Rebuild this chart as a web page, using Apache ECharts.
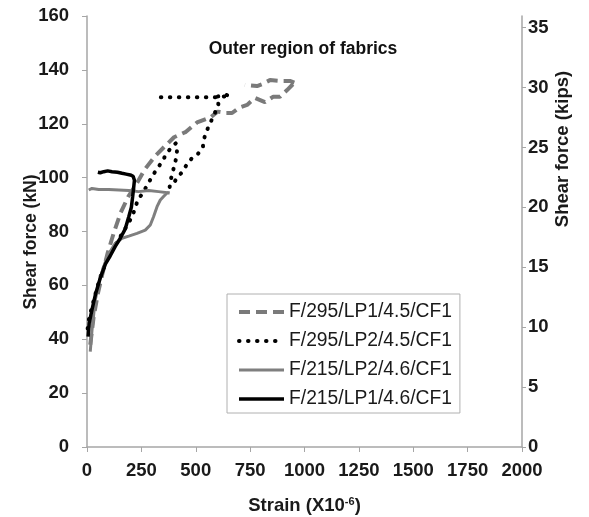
<!DOCTYPE html>
<html>
<head>
<meta charset="utf-8">
<script src="https://cdn.jsdelivr.net/npm/echarts@6/dist/echarts.min.js"></script>
<style>
html,body{margin:0;padding:0;background:#fff;}
#c{width:589px;height:517px;}
</style>
</head>
<body>
<div id="c"></div>
<script>
// ---- data ----
var seriesNames = ['F/295/LP1/4.5/CF1', 'F/295/LP2/4.5/CF1', 'F/215/LP2/4.6/CF1', 'F/215/LP1/4.6/CF1'];
var xTicks = [0, 250, 500, 750, 1000, 1250, 1500, 1750, 2000];
var kipsTicks = [0, 5, 10, 15, 20, 25, 30, 35];

var f295lp1 = [[15,38],[30,48],[50,57],[70,64],[95,72],[125,80],[155,87],[190,93],[230,98],[265,103],[313,108],[350,111],[400,115],[455,117],[506,120.5],[570,122.5],[600,124.5],[640,124],[667,124],[700,126],[736,127],[772,129.6],[818,128],[855,130],[887,130],[920,132.5],[947,134.7],[963,135],[933,135.9],[887,135.9],[841,136.2],[805,134.7],[782,134],[726,134.4]];

var f295lp2 = [[3,44],[10,48],[23,52],[46,59],[69,65],[100,71],[130,75],[160,79],[190,83],[210,86],[221,88.7],[234,91.7],[257,94.4],[280,97.6],[303,101],[326,103.6],[349,106.5],[368,109.2],[391,111.5],[409,112.8],[414,110.2],[411,107.8],[405,105.4],[395,102.4],[386,99.5],[380,96.5],[395,97.5],[414,99.9],[437,102],[460,105],[483,107.3],[510,108.8],[533,111.4],[535,113.3],[543,115.8],[556,118.4],[573,121.4],[589,124.2],[604,127.3],[596,130.1],[619,130.3],[639,130.7],[657,130.4],[600,129.8],[558,129.8],[515,129.8],[474,129.8],[431,129.8],[389,129.8],[346,129.8],[305,129.8]];

var f215lp2 = [[15,35.4],[23,43.4],[38,54.6],[61,63],[92,70.6],[130,75.6],[161,77.5],[192,78.3],[230,79.3],[268,80.5],[291,82.4],[306,85.5],[322,89.2],[337,91.7],[352,93],[370,94.5],[380,94.3],[329,94.8],[284,95.2],[237,94.8],[192,95.2],[146,95.4],[100,95.6],[54,95.6],[23,96],[8,95.4]];

var f215lp1 = [[5,41],[10,46],[23,51],[40,57],[62,63],[85,68],[107,71],[130,74.5],[153,77.5],[176,81],[192,85.5],[204,89],[210,93],[215,96.6],[218,99],[212,100.5],[199,101],[180,101.3],[161,101.6],[140,102],[115,102.2],[95,102.5],[77,102.2],[61,101.8],[50,102]];

var KN_PER_KIP = 4.448;

var chart = echarts.init(document.getElementById('c'));
var FONT = 'Liberation Sans, Arial, sans-serif';
var axisGray = '#a6a6a6';

chart.setOption({
  animation: false,
  backgroundColor: '#fff',
  textStyle: {fontFamily: FONT},
  title: {
    text: 'Outer region of fabrics',
    left: 298, top: 35, textAlign: 'center',
    textStyle: {fontFamily: FONT, fontSize: 17.5, fontWeight: 'bold', color: '#111'}
  },
  grid: {left: 87, right: 67, top: 16, bottom: 70, containLabel: false, outerBoundsMode: 'none'},
  legend: {
    orient: 'vertical',
    left: 227, top: 294,
    padding: [8, 8, 4, 10],
    itemGap: 9,
    itemWidth: 45, itemHeight: 14,
    borderColor: '#b0b0b0', borderWidth: 1,
    data: seriesNames,
    itemStyle: {opacity: 0},
    lineStyle: {width: 'inherit'},
    textStyle: {fontFamily: FONT, fontSize: 19.3, color: '#1a1a1a', lineHeight: 20}
  },
  xAxis: {
    type: 'value', min: 0, max: 2000, interval: 250,
    axisLine: {show: true, lineStyle: {color: axisGray, width: 1.5}},
    axisTick: {show: true, length: 5, lineStyle: {color: axisGray}},
    splitLine: {show: false},
    axisLabel: {margin: 14, fontFamily: FONT, fontSize: 18.5, fontWeight: 'bold', color: '#1a1a1a',
      formatter: function (v) { return String(v); }},
    name: '{a|Strain (X10}{b|-6}{a|)}',
    nameLocation: 'middle', nameGap: 49,
    nameTextStyle: {
      rich: {
        a: {fontFamily: FONT, fontSize: 18.5, fontWeight: 'bold', color: '#1a1a1a'},
        b: {fontFamily: FONT, fontSize: 11, fontWeight: 'bold', color: '#1a1a1a', verticalAlign: 'top', padding: [0, 0, 8, 0]}
      }
    }
  },
  yAxis: [{
    type: 'value', min: 0, max: 160, interval: 20,
    axisLine: {show: true, lineStyle: {color: axisGray, width: 1.5}},
    axisTick: {show: true, length: 5, lineStyle: {color: axisGray}},
    splitLine: {show: false},
    axisLabel: {margin: 18, fontFamily: FONT, fontSize: 18.5, fontWeight: 'bold', color: '#1a1a1a'}
  }, {
    type: 'value', position: 'right', min: 0, max: 160 / KN_PER_KIP,
    axisLine: {show: true, lineStyle: {color: axisGray, width: 1.5}},
    axisTick: {show: true, length: 4, lineStyle: {color: axisGray}, customValues: kipsTicks},
    splitLine: {show: false},
    axisLabel: {margin: 6, fontFamily: FONT, fontSize: 18.5, fontWeight: 'bold', color: '#1a1a1a', customValues: kipsTicks}
  }],
  graphic: [{
    type: 'text', x: 31, y: 242, rotation: Math.PI / 2,
    style: {text: 'Shear force (kN)', font: 'bold 17.5px ' + FONT, fill: '#1a1a1a', align: 'center', verticalAlign: 'middle'}
  }, {
    type: 'text', x: 563, y: 149, rotation: Math.PI / 2,
    style: {text: 'Shear force (kips)', font: 'bold 18.5px ' + FONT, fill: '#1a1a1a', align: 'center', verticalAlign: 'middle'}
  }],
  series: [{
    name: seriesNames[0], type: 'line', data: f295lp1, showSymbol: false, symbol: 'none',
    lineStyle: {color: '#7a7a7a', width: 4, type: [11, 6]}, itemStyle: {color: '#7a7a7a'}
  }, {
    name: seriesNames[1], type: 'line', data: f295lp2, showSymbol: false, symbol: 'none',
    lineStyle: {color: '#000', width: 4, type: [0.5, 8.5], cap: 'round'}, itemStyle: {color: '#000'}
  }, {
    name: seriesNames[2], type: 'line', data: f215lp2, showSymbol: false, symbol: 'none',
    lineStyle: {color: '#7f7f7f', width: 3}, itemStyle: {color: '#7f7f7f'}
  }, {
    name: seriesNames[3], type: 'line', data: f215lp1, showSymbol: false, symbol: 'none',
    lineStyle: {color: '#000', width: 3.5}, itemStyle: {color: '#000'}
  }]
});
</script>
</body>
</html>
